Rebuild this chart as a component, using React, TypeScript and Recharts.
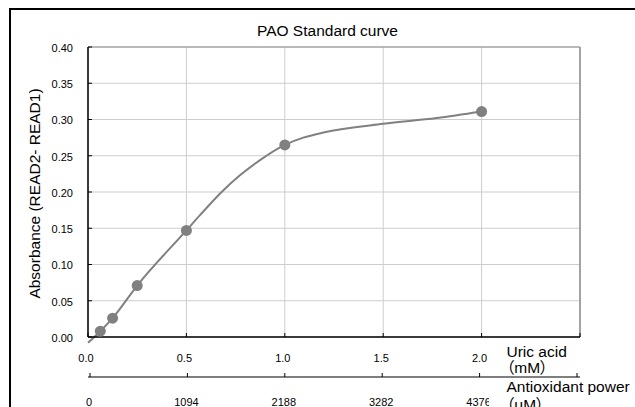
import {
  ComposedChart,
  Line,
  Scatter,
  XAxis,
  YAxis,
  CartesianGrid,
  ReferenceLine,
} from "recharts"

// measured standards (uric acid mM vs absorbance)
const uricAcid = [0.0625, 0.125, 0.25, 0.5, 1.0, 2.0]
const absorbance = [0.008, 0.026, 0.071, 0.147, 0.265, 0.311]

// points
const curveX = [0, 0.0625, 0.125, 0.25, 0.5, 0.569, 0.679, 0.772, 0.874, 1.0, 1.094, 1.196, 1.5, 1.772, 2.0]
const curveY = [-0.008, 0.008, 0.026, 0.071, 0.147, 0.168, 0.2, 0.223, 0.244, 0.265, 0.275, 0.282, 0.294, 0.302, 0.311]

const xTicks = [0, 0.5, 1.0, 1.5, 2.0, 2.5]
const yTicks = [0, 0.05, 0.1, 0.15, 0.2, 0.25, 0.3, 0.35, 0.4]
// antioxidant power (uM) scale under the uric acid axis
const powerTicks = [0, 1094, 2188, 3282, 4376, 5470]

const FONT = "'Liberation Sans', Arial, 'Noto Sans CJK JP', sans-serif"
const GRID = "#cdcdcd"
const SERIES = "#808080"

const points = uricAcid.map((x, i) => ({ x, y: absorbance[i] }))
const curve = curveX.map((x, i) => ({ x, y: curveY[i] }))
// invisible helper so the second axis has something attached
const powerAnchor = powerTicks.map((p) => ({ p, y: 0 }))

const tickStyle = { fill: "#000", fontSize: 11, fontFamily: FONT }

export default function App() {
  return (
    <div
      className="pao-chart"
      style={{
        position: "absolute",
        left: 0,
        top: 0,
        width: 635,
        height: 407,
        overflow: "hidden",
        background: "#fff",
        fontFamily: FONT,
      }}
    >
      {/* let the curve run below the axis like the original */}
      <style>{`.pao-chart .recharts-line [clip-path]{clip-path:none !important}`}</style>
      <div
        style={{
          position: "absolute",
          left: 9,
          top: 8,
          width: 700,
          height: 500,
          border: "2px solid #000",
          boxSizing: "border-box",
        }}
      />
      <div style={{ position: "absolute", left: 0, top: 0 }}>
        <ComposedChart
          width={635}
          height={407}
          margin={{ top: 47, right: 55, left: 28, bottom: 0 }}
        >
          <CartesianGrid stroke={GRID} strokeWidth={1} />
          <XAxis
            dataKey="x"
            type="number"
            domain={[0, 2.5]}
            allowDataOverflow
            ticks={xTicks}
            tickFormatter={(v: number) => (v === 2.5 ? "" : v.toFixed(1))}
            height={40}
            axisLine={{ stroke: "#000", strokeWidth: 1.5 }}
            tickLine={{ stroke: "#000" }}
            tickSize={-4}
            tickMargin={21}
            tick={{ ...tickStyle, dx: -2 }}
          />
          <XAxis
            xAxisId="power"
            dataKey="p"
            type="number"
            domain={[0, 5470]}
            allowDataOverflow
            ticks={powerTicks}
            interval={0}
            tickFormatter={(v: number) => (v === 5470 ? "" : String(v))}
            padding={{ left: 2, right: 3 }}
            height={30}
            axisLine={{ stroke: "#000", strokeWidth: 1.2 }}
            tickLine={{ stroke: "#000" }}
            tickSize={-4}
            tickMargin={25}
            tick={{ ...tickStyle, dx: -1 }}
          />
          <YAxis
            type="number"
            domain={[0, 0.4]}
            allowDataOverflow
            ticks={yTicks}
            tickFormatter={(v: number) => v.toFixed(2)}
            width={60}
            axisLine={{ stroke: "#000", strokeWidth: 1.5 }}
            tickLine={{ stroke: "#000" }}
            tickSize={-4}
            tickMargin={19}
            tick={{ ...tickStyle, dy: 1 }}
          />
          <ReferenceLine y={0.4} stroke="#8c8c8c" strokeWidth={1.2} />
          <ReferenceLine x={2.5} stroke="#8c8c8c" strokeWidth={1.5} />
          <Line
            xAxisId="power"
            data={powerAnchor}
            dataKey="y"
            stroke="none"
            dot={false}
            activeDot={false}
            legendType="none"
            isAnimationActive={false}
          />
          <Line
            data={curve}
            dataKey="y"
            type="monotone"
            stroke={SERIES}
            strokeWidth={2}
            dot={false}
            activeDot={false}
            isAnimationActive={false}
          />
          <Scatter
            data={points}
            dataKey="y"
            fill={SERIES}
            shape={(p: any) => <circle cx={p.cx} cy={p.cy} r={5.5} fill={SERIES} />}
            isAnimationActive={false}
          />
        </ComposedChart>
      </div>
      <svg
        width={635}
        height={407}
        style={{ position: "absolute", left: 0, top: 0, pointerEvents: "none" }}
      >
        <text
          x={327.5}
          y={36}
          textAnchor="middle"
          fontSize={15.5}
          fontFamily={FONT}
          fill="#000"
        >
          PAO Standard curve
        </text>
        <text
          x={40}
          y={193.5}
          transform="rotate(-90, 40, 193.5)"
          textAnchor="middle"
          fontSize={15.5}
          fontFamily={FONT}
          fill="#000"
        >
          Absorbance (READ2- READ1)
        </text>
        <g fontSize={15.5} fontFamily={FONT} fill="#000" style={{ fontFeatureSettings: '"palt"' }}>
          <text x={506.5} y={356.5}>Uric acid</text>
          <text x={506.5} y={373}>（mM）</text>
          <rect x={489} y={379} width={146} height={28} fill="#fff" />
          <text x={506.5} y={391.5}>Antioxidant power</text>
          <text x={506.5} y={410}>（μM）</text>
        </g>
      </svg>
    </div>
  )
}
